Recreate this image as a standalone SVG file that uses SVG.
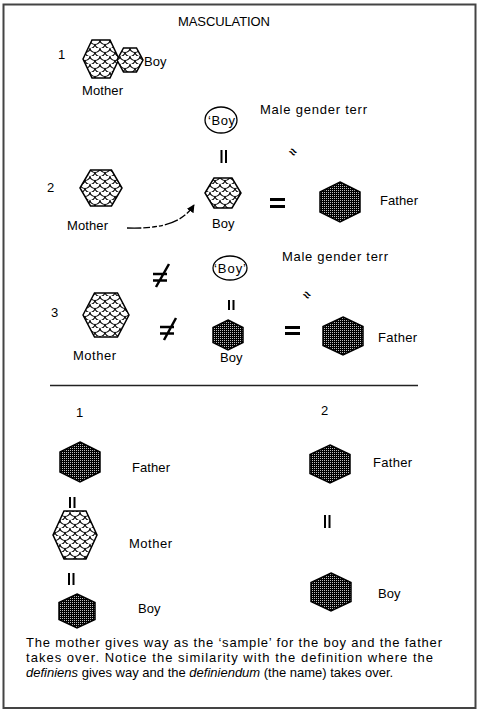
<svg xmlns="http://www.w3.org/2000/svg" width="479" height="714" viewBox="0 0 479 714">
<style>
text{font-family:"Liberation Sans",Arial,sans-serif;font-size:13px;fill:#000}
.it{font-style:italic}
.scale{fill:url(#scales);stroke:#000;stroke-width:1.5}
.dark{fill:url(#dots);stroke:#000;stroke-width:1.5}
.bar{stroke:#000;stroke-width:2;fill:none}
.eq{fill:#000}
.ne{stroke:#000;stroke-width:2.5;fill:none}
.oval{fill:#fff;stroke:#000;stroke-width:1.3}
.sq{font-size:13px;font-weight:bold}
</style>
<defs>
<pattern id="scales" patternUnits="userSpaceOnUse" width="10" height="8">
<rect width="10" height="8" fill="#fff"/>
<path d="M0,0 A5,4.5 0 0 0 10,0 M-5,4 A5,4.5 0 0 0 5,4 M5,4 A5,4.5 0 0 0 15,4 M0,8 A5,4.5 0 0 0 10,8" fill="none" stroke="#000" stroke-width="1.1"/>
</pattern>
<pattern id="dots" patternUnits="userSpaceOnUse" width="2" height="2">
<rect width="2" height="2" fill="#000"/>
<rect width="1" height="1" fill="#fff" opacity="0.75"/>
</pattern>
<marker id="ah" viewBox="0 0 10 10" refX="9" refY="5" markerWidth="8" markerHeight="8" markerUnits="userSpaceOnUse" orient="auto">
<path d="M0,0 L10,5 L0,10 Z" fill="#000"/>
</marker>
</defs>
<rect x="3.5" y="4.5" width="472" height="703.5" fill="#fff" stroke="#444" stroke-width="2"/>
<text x="178" y="26" textLength="92">MASCULATION</text>

<g id="row1">
<text x="58" y="59">1</text>
<g id="r1-mother"><polygon class="scale" points="83,59 92,40 110,40 119,59 110,78 92,78"/><text x="82" y="95" textLength="41">Mother</text></g>
<g id="r1-boy"><polygon class="scale" points="117,60 123.5,48 136.5,48 143,60 136.5,72 123.5,72"/><text x="144" y="66">Boy</text></g>
</g>

<g id="row2">
<text x="47" y="192">2</text>
<g id="r2-mother"><polygon class="scale" points="80,188 90.5,170 111.5,170 122,188 111.5,206 90.5,206"/><text x="67" y="230" textLength="41">Mother</text></g>
<g id="r2-term"><ellipse class="oval" cx="221" cy="120" rx="16" ry="13"/><text x="208" y="125" font-size="12" textLength="27">‘Boy</text></g>
<g id="r2-termlabel"><text x="260" y="114" textLength="107">Male gender terr</text></g>
<g id="r2-boy"><polygon class="scale" points="205,193 214,178 232,178 241,193 232,208 214,208"/><text x="212" y="228">Boy</text></g>
<g id="r2-father"><polygon class="dark" points="340,182 360,192 360,212 340,222 320,212 320,192"/><text x="380" y="205" textLength="38">Father</text></g>
</g>

<g id="row3">
<text x="51" y="317">3</text>
<g id="r3-mother"><polygon class="scale" points="83,315 94.5,293 117.5,293 129,315 117.5,337 94.5,337"/><text x="73" y="360" textLength="43">Mother</text></g>
<g id="r3-term"><ellipse class="oval" cx="230" cy="268" rx="17" ry="12"/><text x="214" y="273" font-size="12" textLength="32">‘Boy’</text></g>
<g id="r3-termlabel"><text x="282" y="261" textLength="106">Male gender terr</text></g>
<g id="r3-boy"><polygon class="dark" points="228,320 243,327.5 243,342.5 228,350 213,342.5 213,327.5"/><text x="220" y="362">Boy</text></g>
<g id="r3-father"><polygon class="dark" points="343,317 363,326.5 363,345.5 343,355 323,345.5 323,326.5"/><text x="378" y="342" textLength="39">Father</text></g>
</g>

<line x1="50" y1="385.5" x2="418" y2="385.5" stroke="#222" stroke-width="1.5"/>

<g id="bottom1">
<text x="76" y="417">1</text>
<g id="b1-father"><polygon class="dark" points="80,442 100,452 100,472 80,482 60,472 60,452"/><text x="132" y="472" textLength="38">Father</text></g>
<g id="b1-mother"><polygon class="scale" points="53,535 64,511 86,511 97,535 86,559 64,559"/><text x="129" y="548" textLength="43">Mother</text></g>
<g id="b1-boy"><polygon class="dark" points="77,594 95,602.5 95,619.5 77,628 59,619.5 59,602.5"/><text x="138" y="613">Boy</text></g>
</g>

<g id="bottom2">
<text x="321" y="415">2</text>
<g id="b2-father"><polygon class="dark" points="330,445 350,454.5 350,473.5 330,483 310,473.5 310,454.5"/><text x="373" y="467" textLength="39">Father</text></g>
<g id="b2-boy"><polygon class="dark" points="331,573 351,582.5 351,601.5 331,611 311,601.5 311,582.5"/><text x="378" y="598">Boy</text></g>
</g>

<g id="connectors">
<path d="M127,228 C158,229 182,224 194,205" fill="none" stroke="#000" stroke-width="1.3" stroke-dasharray="14,2,7,2,5,2,4,2" marker-end="url(#ah)"/>
<path class="bar" d="M221.5,150 V163 M226,150 V163"/>
<path class="bar" d="M229,300 V310 M233.5,300 V310"/>
<path class="bar" d="M70,497 V508 M74.5,497 V508"/>
<path class="bar" d="M69,573 V585 M73.5,573 V585"/>
<path class="bar" d="M325,515 V528 M329.5,515 V528"/>
<rect class="eq" x="270" y="198" width="15" height="3"/>
<rect class="eq" x="270" y="205" width="15" height="3"/>
<rect class="eq" x="285" y="326" width="15" height="3"/>
<rect class="eq" x="285" y="332" width="15" height="3"/>
<path class="ne" d="M153,274 H167 M153,280.5 H167 M169,264 L156,287"/>
<path class="ne" d="M160,327 H174 M160,333.5 H174 M176,318 L164,340"/>
<text class="sq" x="289" y="157" transform="rotate(35 294 153)">≈</text>
<text class="sq" x="303" y="300" transform="rotate(35 308 296)">≈</text>
</g>

<g id="caption">
<text x="26" y="647" textLength="416">The mother gives way as the ‘sample’ for the boy and the father</text>
<text x="26" y="662" textLength="407">takes over. Notice the similarity with the definition where the</text>
<text x="26" y="677"><tspan class="it">definiens</tspan> gives way and the <tspan class="it">definiendum</tspan> (the name) takes over.</text>
</g>
</svg>
